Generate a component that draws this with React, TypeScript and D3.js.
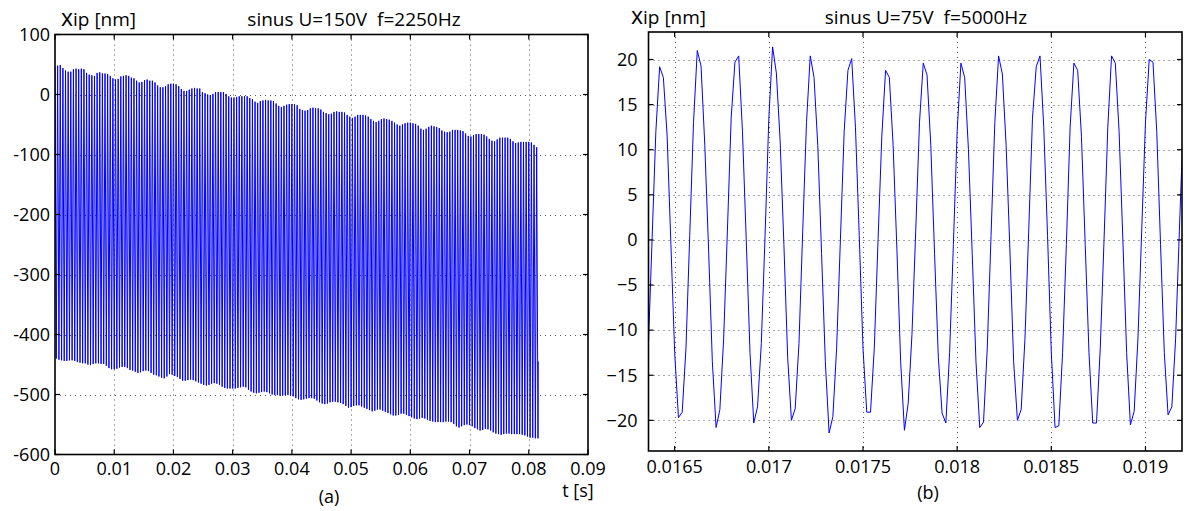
import React from "react";
import * as d3 from "d3";

// ---------- Data (a): sinus U=150V f=2250Hz ----------
const freqA = 2250; // Hz, one peak + one trough per cycle
const peaksA = [
  46, 48, 49, 44, 40, 38, 38, 42, 43, 42, 43, 42, 36, 33, 32, 31, 36, 37, 35, 35,
  34, 31, 27, 25, 26, 30, 31, 32, 31, 28, 27, 23, 20, 21, 24, 25, 23, 23, 20, 15,
  12, 12, 14, 17, 18, 18, 17, 14, 9, 6, 6, 8, 10, 11, 10, 10, 4, 2, 0, -1,
  1, 4, 4, 4, 4, 1, -3, -5, -5, -4, -3, -3, -3, -3, -6, -8, -12, -14, -11, -10,
  -9, -10, -10, -11, -15, -19, -21, -19, -17, -16, -16, -16, -18, -24, -26, -27, -26, -23, -22, -23,
  -23, -25, -29, -31, -33, -32, -29, -28, -29, -29, -30, -34, -37, -39, -37, -34, -34, -34, -35, -37,
  -41, -44, -46, -44, -41, -40, -41, -42, -44, -47, -50, -52, -50, -48, -47, -47, -48, -49, -52, -57,
  -59, -57, -54, -52, -53, -54, -56, -60, -62, -63, -62, -59, -59, -59, -60, -61, -65, -69, -70, -68,
  -66, -66, -66, -67, -70, -74, -77, -78, -75, -72, -72, -72, -72, -74, -78, -81, -80, -79, -79, -79,
  -79, -80, -84, -88,
];
const troughsA = [
  -440, -442, -443, -444, -444, -443, -443, -444, -446, -447, -448, -448, -450, -451, -449, -448, -448, -449, -449, -452,
  -456, -458, -458, -457, -455, -454, -454, -456, -459, -460, -462, -464, -463, -461, -460, -461, -464, -467, -468, -470,
  -472, -473, -470, -466, -467, -469, -471, -474, -477, -477, -476, -475, -476, -478, -480, -482, -484, -485, -484, -482,
  -481, -482, -484, -487, -489, -490, -490, -490, -490, -489, -488, -487, -488, -492, -495, -497, -498, -497, -496, -495,
  -496, -498, -500, -501, -501, -502, -502, -501, -501, -501, -503, -506, -508, -509, -508, -507, -506, -506, -507, -510,
  -513, -515, -516, -515, -513, -512, -512, -513, -514, -516, -519, -522, -521, -519, -518, -518, -520, -522, -524, -526,
  -528, -527, -525, -525, -527, -529, -531, -533, -535, -535, -534, -532, -532, -534, -536, -538, -540, -541, -540, -539,
  -540, -542, -544, -545, -546, -546, -546, -546, -545, -545, -546, -549, -553, -555, -553, -551, -550, -551, -553, -556,
  -558, -560, -559, -557, -558, -560, -563, -565, -566, -567, -566, -565, -565, -566, -566, -566, -566, -567, -568, -570,
  -572, -572, -573, -573,
];
const endTimeA = 0.0816;
const endValueA = -445;

const xTicksA = [0, 0.01, 0.02, 0.03, 0.04, 0.05, 0.06, 0.07, 0.08, 0.09];
const xTickLabelsA = ["0", "0.01", "0.02", "0.03", "0.04", "0.05", "0.06", "0.07", "0.08", "0.09"];
const yTicksA = [100, 0, -100, -200, -300, -400, -500, -600];
const yTickLabelsA = ["100", "0", "-100", "-200", "-300", "-400", "-500", "-600"];

// ---------- Data (b): sinus U=75V f=5000Hz ----------
const startTimeB = 0.01636;
const sampleStepB = 0.00002;
const valuesB = [
  -12, 0, 12,
  19.2, 18.0, 11.5, -0.5, -12.5, -19.7, -19.1, -12.0, 0.5, 13.0,
  21.0, 19.3, 10.5, -1.0, -13.5, -20.8, -18.8, -11.0, 1.0, 13.5,
  19.7, 20.4, 12.0, 0.0, -12.5, -20.3, -18.5, -11.5, 0.5, 13.5,
  21.4, 18.5, 11.0, -0.5, -13.0, -20.0, -18.7, -11.5, 1.0, 13.0,
  20.4, 18.0, 10.5, -1.5, -13.5, -21.4, -19.6, -12.0, 0.0, 12.0,
  18.8, 20.1, 12.5, 0.5, -12.0, -19.1, -19.1, -12.0, 0.0, 11.5,
  18.8, 18.0, 10.5, -1.0, -13.5, -21.1, -18.1, -10.5, 1.0, 13.0,
  19.6, 18.3, 10.5, -1.5, -13.0, -19.2, -20.3, -12.5, -0.5, 12.0,
  19.6, 18.0, 10.0, -1.5, -13.5, -20.8, -20.2, -12.0, 0.5, 13.0,
  20.4, 18.4, 10.5, -1.0, -13.5, -20.0, -18.8, -11.0, 1.0, 13.5,
  19.2, 20.4, 12.5, 0.5, -12.5, -20.8, -20.6, -12.5, -0.5, 12.5,
  19.6, 18.8, 11.5, -0.5, -12.5, -20.3, -20.3, -12.0, 0.0, 12.5,
  20.4, 19.6, 12.0, 0.0, -12.5, -20.5, -19.0, -11.0, 1.0, 13.0,
  20.0, 19.7, 12.0, -0.5, -12.5, -19.4, -18.5, -11.0, 1.0, 12.5,
];
const xTicksB = [0.0165, 0.017, 0.0175, 0.018, 0.0185, 0.019];
const xTickLabelsB = ["0.0165", "0.017", "0.0175", "0.018", "0.0185", "0.019"];
const yTicksB = [20, 15, 10, 5, 0, -5, -10, -15, -20];
const yTickLabelsB = ["20", "15", "10", "5", "0", "\u22125", "\u221210", "\u221215", "\u221220"];

const FONT = "'Open Sans', 'Noto Sans', sans-serif";
const FS = 18;
const FT = 19;

type PanelProps = {
  x0: number; x1: number; y0: number; y1: number;
  xDomain: [number, number]; yDomain: [number, number];
  xTicks: number[]; xLabels: string[]; yTicks: number[]; yLabels: string[];
  points: [number, number][];
  clipId: string;
  yLabelGap: number;
  xLabelY: number;
};

function Panel(p: PanelProps) {
  const xs = d3.scaleLinear().domain(p.xDomain).range([p.x0, p.x1]);
  const ys = d3.scaleLinear().domain(p.yDomain).range([p.y1, p.y0]);
  const line = d3.line<[number, number]>().x((d) => xs(d[0])).y((d) => ys(d[1]));
  const tl = 5;
  const grid = "#555";
  return (
    <g>
      <defs>
        <clipPath id={p.clipId}>
          <rect x={p.x0} y={p.y0} width={p.x1 - p.x0} height={p.y1 - p.y0} />
        </clipPath>
      </defs>
      <rect x={p.x0} y={p.y0} width={p.x1 - p.x0} height={p.y1 - p.y0} fill="#fff" />
      {p.xTicks.map((t, i) => {
        const x = Math.round(xs(t)) + 0.5;
        if (Math.abs(xs(t) - p.x0) < 2 || Math.abs(xs(t) - p.x1) < 2) return null;
        return <line key={"gx" + i} x1={x} x2={x} y1={p.y0} y2={p.y1} stroke={grid} strokeWidth={1} strokeDasharray="1 4" />;
      })}
      {p.yTicks.map((t, i) => {
        const y = Math.round(ys(t)) + 0.5;
        if (Math.abs(ys(t) - p.y0) < 2 || Math.abs(ys(t) - p.y1) < 2) return null;
        return <line key={"gy" + i} x1={p.x0} x2={p.x1} y1={y} y2={y} stroke={grid} strokeWidth={1} strokeDasharray="1 4" />;
      })}
      <path d={line(p.points) || ""} fill="none" stroke="#0000ff" strokeWidth={1} clipPath={`url(#${p.clipId})`} />
      {p.xTicks.map((t, i) => {
        const x = xs(t);
        return (
          <g key={"tx" + i}>
            <line x1={x} x2={x} y1={p.y1} y2={p.y1 - tl} stroke="#000" strokeWidth={1.2} />
            <line x1={x} x2={x} y1={p.y0} y2={p.y0 + tl} stroke="#000" strokeWidth={1.2} />
            <text x={x} y={p.xLabelY} textAnchor="middle" fontFamily={FONT} fontSize={FS} fill="#000">{p.xLabels[i]}</text>
          </g>
        );
      })}
      {p.yTicks.map((t, i) => {
        const y = ys(t);
        return (
          <g key={"ty" + i}>
            <line x1={p.x0} x2={p.x0 + tl} y1={y} y2={y} stroke="#000" strokeWidth={1.2} />
            <line x1={p.x1} x2={p.x1 - tl} y1={y} y2={y} stroke="#000" strokeWidth={1.2} />
            <text x={p.x0 - p.yLabelGap} y={y} dy="0.35em" textAnchor="end" fontFamily={FONT} fontSize={FS} fill="#000">{p.yLabels[i]}</text>
          </g>
        );
      })}
      <rect x={p.x0} y={p.y0} width={p.x1 - p.x0} height={p.y1 - p.y0} fill="none" stroke="#000" strokeWidth={1.6} />
    </g>
  );
}

export default function App() {
  const periodA = 1 / freqA;
  const pointsA: [number, number][] = [];
  peaksA.forEach((v, k) => {
    pointsA.push([k * periodA, v]);
    pointsA.push([(k + 0.5) * periodA, troughsA[k]]);
  });
  pointsA.push([endTimeA, endValueA]);

  const pointsB: [number, number][] = valuesB.map((v, i) => [startTimeB + i * sampleStepB, v]);

  return (
    <svg width={1185} height={511} style={{ position: "absolute", left: 0, top: 0, background: "#fff" }}>
      <rect x={0} y={0} width={1185} height={511} fill="#fff" />
      <Panel
        x0={55} x1={588} y0={34.5} y1={454.5}
        xDomain={[0, 0.09]} yDomain={[-600, 100]}
        xTicks={xTicksA} xLabels={xTickLabelsA} yTicks={yTicksA} yLabels={yTickLabelsA}
        points={pointsA} clipId="clipA" yLabelGap={5} xLabelY={475}
      />
      <Panel
        x0={648.5} x1={1182} y0={32} y1={451}
        xDomain={[0.016361, 0.019194]} yDomain={[-23.4, 23.05]}
        xTicks={xTicksB} xLabels={xTickLabelsB} yTicks={yTicksB} yLabels={yTickLabelsB}
        points={pointsB} clipId="clipB" yLabelGap={11} xLabelY={473}
      />
      <text x={61} y={26} fontFamily={FONT} fontSize={FT} fill="#000">
        <tspan fontSize={23}>x</tspan>ip [nm]
      </text>
      <text x={354} y={26} textAnchor="middle" fontFamily={FONT} fontSize={FT} fill="#000" xmlSpace="preserve" style={{ whiteSpace: "pre" }}>sinus U=150V  f=2250Hz</text>
      <text x={578} y={497} textAnchor="middle" fontFamily={FONT} fontSize={FS} fill="#000">t [s]</text>
      <text x={329} y={503} textAnchor="middle" fontFamily={FONT} fontSize={FS} fill="#000">(a)</text>
      <text x={631} y={24} fontFamily={FONT} fontSize={FT} fill="#000">
        <tspan fontSize={23}>x</tspan>ip [nm]
      </text>
      <text x={926} y={24} textAnchor="middle" fontFamily={FONT} fontSize={FT} fill="#000" xmlSpace="preserve" style={{ whiteSpace: "pre" }}>sinus U=75V  f=5000Hz</text>
      <text x={928} y={499} textAnchor="middle" fontFamily={FONT} fontSize={FS} fill="#000">(b)</text>
    </svg>
  );
}
